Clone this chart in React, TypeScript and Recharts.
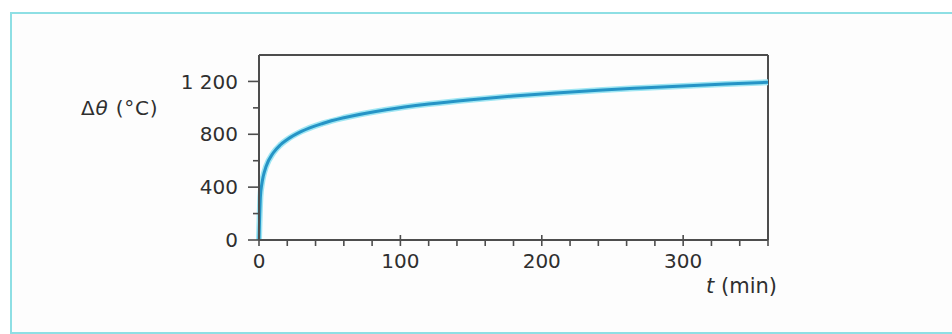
import { LineChart, Line, XAxis, YAxis, ReferenceLine, Label } from "recharts";

// time (min) and temperature rise (°C)
const times = [0, 1, 2, 3, 5, 10, 15, 20, 30, 45, 60, 90, 120, 150, 180, 210, 240, 270, 300, 330, 360];
const rises = [0, 329, 424, 482, 556, 658, 719, 761, 822, 882, 925, 986, 1029, 1062, 1090, 1113, 1133, 1150, 1166, 1181, 1194];

const xTicks = [0, 20, 40, 60, 80, 100, 120, 140, 160, 180, 200, 220, 240, 260, 280, 300, 320, 340, 360];
const xLabels = [0, 100, 200, 300];
const yTicks = [0, 200, 400, 600, 800, 1000, 1200];
const yLabels = [0, 400, 800, 1200];

const data = times.map((t, i) => ({ t, v: rises[i] }));

const AXIS = "#4d4d4d";
const TEXT = "#2f2f2f";
const FONT = "'DejaVu Sans', Verdana, sans-serif";

function fmtY(v: number) {
  return v >= 1000 ? `${Math.floor(v / 1000)} ${String(v % 1000).padStart(3, "0")}` : String(v);
}

function XTick(props: any) {
  const { x, y, payload } = props;
  const major = xLabels.includes(payload.value);
  return (
    <g>
      <line x1={x} x2={x} y1={major ? y - 5 : y} y2={y + 6} stroke={AXIS} strokeWidth={1.6} />
      {major && (
        <text x={x} y={y + 28} textAnchor="middle" fontSize={20} fill={TEXT} fontFamily={FONT}>
          {payload.value}
        </text>
      )}
    </g>
  );
}

function YTick(props: any) {
  const { x, y, payload } = props;
  const major = yLabels.includes(payload.value);
  return (
    <g>
      <line x1={major ? x - 11 : x - 6} x2={x} y1={y} y2={y} stroke={AXIS} strokeWidth={1.6} />
      {major && (
        <text x={x - 21} y={y} dy="0.36em" textAnchor="end" fontSize={20} fill={TEXT} fontFamily={FONT}>
          {fmtY(payload.value)}
        </text>
      )}
    </g>
  );
}

export default function App() {
  return (
    <div style={{ position: "absolute", left: 0, top: 0, width: 952, height: 334, background: "#fff", overflow: "hidden" }}>
      <div
        style={{
          position: "absolute",
          left: 10,
          top: 12,
          width: 960,
          height: 318,
          border: "2px solid #8edfe4",
          background: "#fdfdfd",
        }}
      />
      <div style={{ position: "absolute", left: 0, top: 0 }}>
        <LineChart width={952} height={334} data={data} margin={{ top: 55, right: 184, bottom: 64, left: 0 }}>
          <XAxis
            dataKey="t"
            type="number"
            domain={[0, 360]}
            ticks={xTicks}
            interval={0}
            tick={<XTick />}
            tickLine={false}
            tickSize={0}
            tickMargin={0}
            height={30}
            stroke={AXIS}
            strokeWidth={2}
          >
            <Label
              content={() => (
                <text x={777} y={293} textAnchor="end" fontSize={21} fill={TEXT} fontFamily={FONT}>
                  <tspan fontStyle="italic">t</tspan>
                  <tspan> (min)</tspan>
                </text>
              )}
            />
          </XAxis>
          <YAxis
            type="number"
            domain={[0, 1400]}
            ticks={yTicks}
            interval={0}
            tick={<YTick />}
            tickLine={false}
            tickSize={0}
            tickMargin={0}
            width={259}
            stroke={AXIS}
            strokeWidth={2}
          >
            <Label
              content={() => (
                <text x={81} y={115} textAnchor="start" fontSize={20} letterSpacing={0.8} fill={TEXT} fontFamily={FONT}>
                  <tspan>Δ</tspan>
                  <tspan fontStyle="italic">θ</tspan>
                  <tspan> (°C)</tspan>
                </text>
              )}
            />
          </YAxis>
          <ReferenceLine y={1400} stroke={AXIS} strokeWidth={2} />
          <ReferenceLine x={360} stroke={AXIS} strokeWidth={2} />
          <Line
            type="monotone"
            dataKey="v"
            stroke="#9fe6f3"
            strokeWidth={6}
            dot={false}
            isAnimationActive={false}
          />
          <Line
            type="monotone"
            dataKey="v"
            stroke="#2594c6"
            strokeWidth={3}
            dot={false}
            isAnimationActive={false}
          />
        </LineChart>
      </div>
    </div>
  );
}
